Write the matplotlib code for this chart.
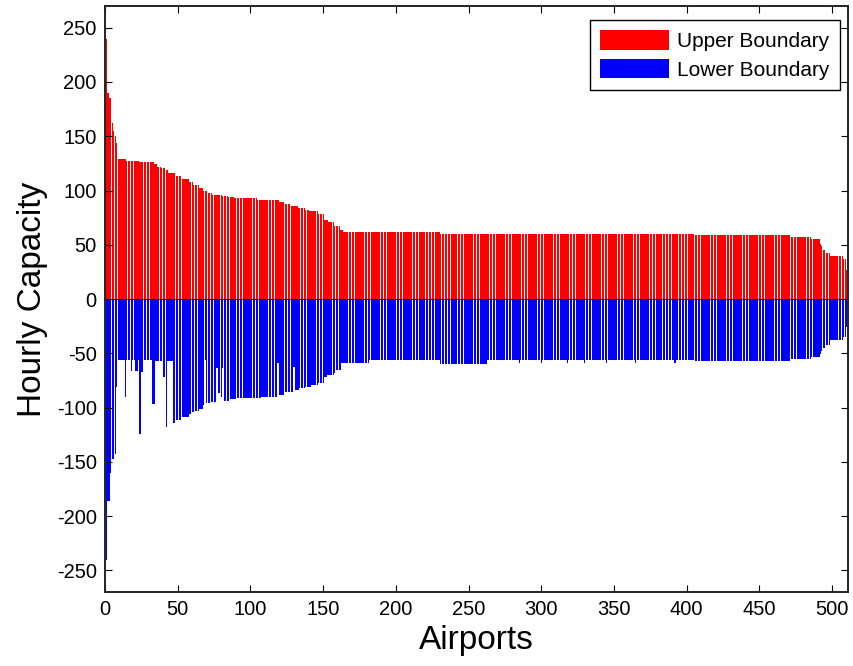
import numpy as np
import matplotlib.pyplot as plt

plt.rcParams['font.family'] = ['Liberation Sans', 'DejaVu Sans']
plt.rcParams['axes.unicode_minus'] = False

# Capacity bounds per airport, stored as (level, number of consecutive airports)
upper_levels = [240, 190, 185, 162, 155, 150, 144, 129, 127, 126, 124, 122, 121, 119,
                116, 113, 111, 108, 105, 102, 100, 98, 96, 95, 94, 93, 91, 89, 88,
                86, 84, 82, 81, 78, 73, 71, 67, 64, 62, 60, 59, 57, 55, 51, 49, 45,
                42, 40, 37, 27]
upper_runs = [1, 1, 2, 1, 1, 1, 1, 6, 9, 10, 2, 3, 3, 2,
              5, 4, 5, 3, 4, 3, 3, 3, 7, 4, 4, 16, 15, 4, 4,
              5, 5, 3, 6, 4, 3, 4, 4, 2, 67, 175, 66, 14, 6, 1, 1, 2,
              3, 9, 2, 1]

lower_levels = [-240, -186, -160, -147, -143, -81, -56, -90, -56, -66, -56, -66, -56,
                -124, -67, -56, -97, -57, -72, -118, -57, -114, -111, -109, -106,
                -104, -103, -101, -98, -56, -96, -95, -64, -87, -90, -64, -94, -92,
                -91, -90, -59, -88, -86, -63, -84, -82, -81, -79, -77, -72, -70,
                -68, -65,
                -59, -56, -60, -56, -59, -56, -59, -56, -59, -56, -59, -56, -59,
                -56, -59, -56, -59, -56, -57, -55, -53, -51, -48, -45, -42, -38,
                -35, -26]
lower_runs = [1, 2, 1, 2, 1, 1, 5, 1, 3, 1, 2, 2, 1,
              1, 2, 6, 2, 5, 2, 1, 4, 2, 4, 5, 2,
              2, 3, 3, 1, 1, 3, 4, 1, 2, 1, 1, 4, 5,
              17, 11, 1, 4, 6, 1, 3, 4, 4, 5, 4, 2, 5,
              1, 4,
              19, 49, 32, 22, 1, 14, 1, 17, 1, 11, 1, 14, 1,
              19, 1, 26, 1, 13, 66, 14, 6, 1, 1, 2, 3, 9,
              2, 1]

upper = np.repeat(upper_levels, upper_runs)
lower = np.repeat(lower_levels, lower_runs)
airports = np.arange(1, len(upper) + 1)

fig = plt.figure(figsize=(8.54, 6.66), dpi=100)
ax = fig.add_axes([0.123, 0.111, 0.870, 0.880])

ax.bar(airports, upper, width=0.8, color='#ff0000', linewidth=0, label='Upper Boundary')
ax.bar(airports, lower, width=0.8, color='#0000ff', linewidth=0, label='Lower Boundary')
ax.axhline(0, color='#000033', lw=0.6)

ax.set_xlim(0, 511)
ax.set_ylim(-270, 270)
ax.set_xticks(np.arange(0, 501, 50))
ax.set_yticks(np.arange(-250, 251, 50))
ax.tick_params(direction='in', length=5, width=0.8, top=True, right=True,
               labelsize=14.5, pad=6)
for s in ax.spines.values():
    s.set_linewidth(1.4)
    s.set_color('#222222')

ax.set_xlabel('Airports', fontsize=24, labelpad=4)
ax.set_ylabel('Hourly Capacity', fontsize=24, labelpad=6)

leg = ax.legend(loc='upper right', fontsize=15, fancybox=False, framealpha=1,
                edgecolor='black', handlelength=3.3, handleheight=1.05,
                borderpad=0.5, labelspacing=0.38, handletextpad=0.4,
                borderaxespad=0, bbox_to_anchor=(0.989, 0.976))
leg.get_frame().set_linewidth(1.0)

fig.savefig('out.png', dpi=100)
